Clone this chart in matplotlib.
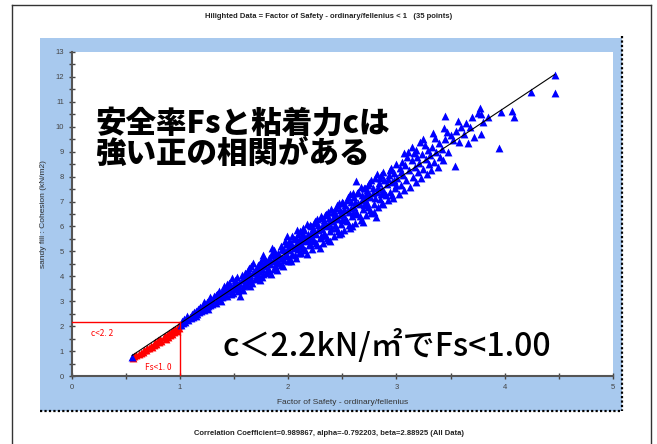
import matplotlib
matplotlib.use('Agg')
import matplotlib.pyplot as plt
from matplotlib.patches import Rectangle
from matplotlib.lines import Line2D
from matplotlib.ticker import MultipleLocator

plt.rcParams['font.family'] = ['Liberation Sans', 'Noto Sans CJK JP']

# regression from the caption
alpha = -0.792203
beta = 2.88925
line_fs = [0.56, 4.46]

# highlighted points (Fs < 1, 35 points)
red_fs = [0.57, 0.58, 0.60, 0.62, 0.64, 0.66, 0.67, 0.69, 0.70, 0.72, 0.73, 0.74,
          0.76, 0.77, 0.78, 0.80, 0.81, 0.82, 0.83, 0.85, 0.86, 0.87, 0.88, 0.89,
          0.90, 0.91, 0.92, 0.93, 0.94, 0.95, 0.96, 0.97, 0.98, 0.99, 0.99]
red_c = [0.72, 0.80, 0.83, 0.88, 0.93, 0.98, 1.06, 1.05, 1.13, 1.12, 1.22, 1.18,
         1.25, 1.35, 1.30, 1.45, 1.38, 1.50, 1.42, 1.56, 1.62, 1.50, 1.66, 1.58,
         1.72, 1.64, 1.78, 1.70, 1.86, 1.76, 1.90, 1.82, 1.98, 2.05, 1.92]

# all other points
blue_pts = [
    (0.56, 0.78),
    (1.01, 2.05), (1.02, 2.22), (1.03, 2.12), (1.04, 2.30), (1.05, 2.18), (1.06, 2.28),
    (1.07, 2.40), (1.08, 2.25), (1.09, 2.38), (1.10, 2.31),
    (1.11, 2.50), (1.12, 2.36), (1.13, 2.58), (1.14, 2.45), (1.15, 2.62), (1.16, 2.48),
    (1.17, 2.70), (1.18, 2.55), (1.19, 2.76), (1.20, 2.60), (1.15, 2.40), (1.18, 2.68),
    (1.21, 2.82), (1.22, 2.66), (1.23, 2.90), (1.24, 2.72), (1.25, 2.98), (1.26, 2.80),
    (1.27, 3.05), (1.28, 2.85), (1.29, 3.10), (1.30, 2.88), (1.22, 2.95), (1.26, 2.70),
    (1.28, 3.15),
    (1.31, 3.05), (1.32, 3.20), (1.33, 2.92), (1.34, 3.30), (1.35, 3.10), (1.36, 3.40),
    (1.37, 3.05), (1.38, 3.35), (1.39, 3.18), (1.40, 3.45), (1.33, 3.25), (1.36, 3.15),
    (1.38, 3.02), (1.40, 3.22),
    (1.41, 3.60), (1.42, 3.30), (1.43, 3.50), (1.44, 3.22), (1.45, 3.75), (1.46, 3.42),
    (1.47, 3.62), (1.48, 3.92), (1.49, 3.35), (1.50, 3.70), (1.42, 3.45), (1.45, 3.55),
    (1.47, 3.28), (1.50, 3.50), (1.44, 3.68),
    (1.51, 3.85), (1.52, 3.55), (1.53, 3.98), (1.54, 3.40), (1.55, 3.75), (1.56, 3.21),
    (1.57, 4.05), (1.58, 3.62), (1.59, 3.90), (1.60, 3.70), (1.52, 3.72), (1.55, 3.50),
    (1.57, 3.85), (1.60, 4.12), (1.58, 3.45), (1.54, 3.65),
    (1.61, 3.95), (1.62, 3.65), (1.63, 4.25), (1.64, 3.80), (1.65, 4.05), (1.66, 4.40),
    (1.67, 3.72), (1.68, 4.15), (1.69, 3.90), (1.70, 4.30), (1.62, 4.10), (1.64, 4.35),
    (1.66, 3.88), (1.68, 4.55), (1.70, 3.95), (1.65, 3.60), (1.69, 4.20),
    (1.71, 4.05), (1.72, 4.45), (1.73, 4.20), (1.74, 3.85), (1.75, 4.62), (1.76, 4.30),
    (1.77, 4.10), (1.78, 4.75), (1.79, 4.40), (1.80, 4.15), (1.72, 4.30), (1.74, 4.55),
    (1.76, 3.98), (1.78, 4.50), (1.80, 4.60), (1.73, 4.00), (1.77, 4.85),
    (1.81, 4.35), (1.82, 4.75), (1.83, 4.50), (1.84, 4.10), (1.85, 5.15), (1.86, 4.62),
    (1.87, 4.30), (1.88, 4.90), (1.89, 4.55), (1.90, 4.80), (1.82, 4.20), (1.84, 4.85),
    (1.86, 4.95), (1.88, 4.40), (1.90, 4.25), (1.83, 4.68), (1.87, 5.05), (1.89, 4.70),
    (1.91, 4.95), (1.92, 4.55), (1.93, 5.20), (1.94, 4.75), (1.95, 4.40), (1.96, 5.05),
    (1.97, 4.85), (1.98, 5.30), (1.99, 5.60), (2.00, 4.60), (1.92, 4.85), (1.94, 5.10),
    (1.96, 4.65), (1.98, 4.95), (2.00, 5.15), (1.93, 4.45), (1.97, 5.40), (1.99, 4.80),
    (2.01, 5.05), (2.02, 4.70), (2.03, 5.35), (2.04, 4.90), (2.05, 5.50), (2.06, 5.20),
    (2.07, 4.75), (2.08, 5.86), (2.09, 5.10), (2.10, 5.45), (2.02, 5.25), (2.04, 5.60),
    (2.06, 4.85), (2.08, 5.30), (2.10, 4.95), (2.03, 4.60), (2.05, 5.15), (2.07, 5.55),
    (2.09, 5.70), (2.01, 5.40),
    (2.11, 5.30), (2.12, 4.95), (2.13, 5.65), (2.14, 5.15), (2.15, 5.85), (2.16, 5.40),
    (2.17, 4.90), (2.18, 5.70), (2.19, 5.25), (2.20, 6.05), (2.12, 5.50), (2.14, 5.95),
    (2.16, 5.05), (2.18, 5.55), (2.20, 5.30), (2.11, 5.80), (2.13, 5.20), (2.15, 5.60),
    (2.17, 6.10), (2.19, 5.45),
    (2.21, 5.60), (2.22, 5.10), (2.23, 5.95), (2.24, 5.40), (2.25, 6.20), (2.26, 5.70),
    (2.27, 5.25), (2.28, 6.05), (2.29, 5.55), (2.30, 6.40), (2.22, 5.80), (2.24, 6.15),
    (2.26, 5.35), (2.28, 5.85), (2.30, 5.60), (2.21, 6.00), (2.23, 5.50), (2.25, 5.75),
    (2.27, 6.30), (2.29, 5.15),
    (2.31, 5.90), (2.32, 5.35), (2.33, 6.25), (2.34, 5.65), (2.35, 6.50), (2.36, 6.00),
    (2.37, 5.45), (2.38, 6.35), (2.39, 5.80), (2.40, 6.70), (2.32, 6.10), (2.34, 6.45),
    (2.36, 5.55), (2.38, 6.15), (2.40, 5.95), (2.31, 6.35), (2.33, 5.75), (2.35, 6.05),
    (2.37, 6.60), (2.39, 5.40),
    (2.41, 6.20), (2.42, 5.60), (2.43, 6.55), (2.44, 5.95), (2.45, 6.85), (2.46, 6.30),
    (2.47, 5.70), (2.48, 6.65), (2.49, 6.10), (2.50, 7.00), (2.42, 6.40), (2.44, 6.75),
    (2.46, 5.80), (2.48, 6.45), (2.50, 6.25), (2.41, 6.60), (2.43, 6.05), (2.45, 6.35),
    (2.47, 6.95), (2.49, 5.75),
    (2.51, 6.50), (2.52, 5.85), (2.53, 6.85), (2.54, 6.20), (2.55, 7.20), (2.56, 6.60),
    (2.57, 5.95), (2.58, 7.00), (2.59, 6.40), (2.60, 7.35), (2.52, 6.70), (2.54, 7.05),
    (2.56, 6.05), (2.58, 6.75), (2.60, 6.55), (2.51, 6.95), (2.53, 6.30), (2.55, 6.65),
    (2.57, 7.30), (2.59, 6.00),
    (2.61, 6.80), (2.62, 6.15), (2.63, 7.83), (2.64, 6.50), (2.65, 7.40), (2.66, 6.90),
    (2.67, 6.25), (2.68, 7.25), (2.69, 6.16), (2.70, 7.55), (2.62, 7.00), (2.64, 7.35),
    (2.66, 6.40), (2.68, 7.05), (2.70, 6.85), (2.61, 7.20), (2.63, 6.60), (2.65, 6.95),
    (2.67, 7.60), (2.69, 6.70),
    (2.71, 7.10), (2.72, 6.45), (2.73, 7.45), (2.74, 6.80), (2.75, 7.75), (2.76, 7.20),
    (2.77, 6.55), (2.78, 7.55), (2.79, 6.90), (2.80, 7.95), (2.72, 7.30), (2.74, 7.65),
    (2.76, 6.65), (2.78, 7.35), (2.80, 7.15), (2.71, 7.55), (2.73, 6.95), (2.75, 7.25),
    (2.77, 7.85), (2.79, 6.60), (2.81, 6.36),
    (2.82, 7.40), (2.83, 6.80), (2.84, 7.75), (2.85, 7.10), (2.86, 8.05), (2.87, 7.50),
    (2.88, 6.90), (2.89, 7.85), (2.90, 7.25), (2.83, 7.60), (2.85, 7.95), (2.87, 6.95),
    (2.89, 7.40), (2.82, 8.10), (2.86, 7.30), (2.88, 8.20),
    (2.91, 7.70), (2.92, 7.05), (2.93, 8.05), (2.94, 7.40), (2.95, 8.35), (2.96, 7.80),
    (2.97, 7.15), (2.98, 8.15), (2.99, 7.55), (3.00, 8.50), (2.92, 7.90), (2.94, 8.25),
    (2.96, 7.25), (2.98, 7.85), (3.00, 7.65),
    (3.01, 7.95), (3.02, 7.30), (3.03, 8.35), (3.04, 7.65), (3.05, 8.60), (3.06, 8.05),
    (3.07, 7.45), (3.08, 8.45), (3.09, 7.85), (3.10, 8.80), (3.04, 8.20), (3.07, 8.95),
    (3.11, 9.00),
    (3.12, 8.25), (3.13, 7.60), (3.14, 8.65), (3.15, 8.00), (3.16, 8.95), (3.17, 8.40),
    (3.18, 7.80), (3.19, 8.80), (3.20, 8.20), (3.14, 9.20), (3.18, 9.05), (3.22, 9.37),
    (3.21, 8.55), (3.23, 7.95), (3.24, 8.90), (3.25, 8.30), (3.26, 9.25), (3.27, 8.70),
    (3.28, 8.10), (3.29, 9.05), (3.30, 8.50), (3.25, 9.50),
    (3.31, 8.85), (3.32, 8.25), (3.33, 9.20), (3.35, 8.60), (3.36, 9.55), (3.37, 9.00),
    (3.38, 8.40), (3.39, 9.35), (3.40, 8.80), (3.34, 9.75),
    (3.42, 9.10), (3.43, 8.65), (3.45, 9.50), (3.45, 10.45), (3.47, 9.80), (3.48, 9.00),
    (3.50, 9.65), (3.44, 9.95),
    (3.52, 9.45), (3.54, 8.43), (3.55, 9.85), (3.57, 10.25), (3.58, 9.40), (3.60, 10.00),
    (3.62, 9.70), (3.64, 10.15), (3.66, 9.35), (3.68, 10.00), (3.70, 10.40), (3.72, 9.60),
    (3.75, 10.55), (3.77, 10.75), (3.78, 10.51), (3.78, 9.72), (3.80, 10.20),
    (3.85, 10.40), (3.95, 9.14), (3.97, 10.59), (4.07, 10.64), (4.09, 10.39),
    (4.24, 11.39), (4.46, 12.09), (4.46, 11.35),
]
blue_fs = [p[0] for p in blue_pts]
blue_c = [p[1] for p in blue_pts]

c_limit = 2.15
fs_limit = 1.0

W, H = 657, 444
fig = plt.figure(figsize=(W / 100, H / 100), dpi=100)

# light blue panel and frames (figure pixel coords)
def fx(px):
    return px / W

def fy(py):
    return 1 - py / H

fig.patches.append(Rectangle((fx(40), fy(411)), fx(622) - fx(40), fy(38) - fy(411),
                             transform=fig.transFigure, facecolor='#a8c9ee',
                             edgecolor='none', zorder=-2))
dots = dict(transform=fig.transFigure, color='black', lw=1.6, ls=(0, (1, 1)))
fig.lines.append(Line2D([fx(622), fx(622)], [fy(36), fy(411)], **dots))
fig.lines.append(Line2D([fx(40), fx(622)], [fy(411), fy(411)], **dots))
frame = dict(transform=fig.transFigure, color='#333333', lw=1.0)
fig.lines.append(Line2D([fx(11.5), fx(11.5)], [fy(5), 0], **frame))
fig.lines.append(Line2D([fx(11.5), fx(651)], [fy(5), fy(5)], **frame))
fig.lines.append(Line2D([fx(651), fx(651)], [fy(5), 0], **frame))

ax = fig.add_axes([fx(71.5), fy(376), fx(613) - fx(71.5), fy(52) - fy(376)])
ax.set_xlim(0, 5)
ax.set_ylim(0, 13)
ax.set_facecolor('white')

ax.scatter(red_fs, red_c, marker='^', s=32, color='#ff0000', linewidths=0, zorder=3)
ax.scatter(blue_fs, blue_c, marker='^', s=32, color='#0000ff', linewidths=0, zorder=3)
ax.plot(line_fs, [alpha + beta * x for x in line_fs], color='black', lw=0.8, zorder=4)

ax.plot([0, fs_limit], [c_limit, c_limit], color='red', lw=1.0, zorder=5)
ax.plot([fs_limit, fs_limit], [0, c_limit], color='red', lw=1.0, zorder=5)
ax.text(0.18, 1.7, 'c<2. 2', color='red', fontsize=6, va='center',
        family=['Noto Sans CJK JP'])
ax.text(0.68, 0.35, 'Fs<1. 0', color='red', fontsize=6, va='center',
        family=['Noto Sans CJK JP'])

for side in ['top', 'right']:
    ax.spines[side].set_visible(False)
for side in ['left', 'bottom']:
    ax.spines[side].set_color('#555555')
    ax.spines[side].set_linewidth(1.5)
ax.xaxis.set_major_locator(MultipleLocator(1))
ax.xaxis.set_minor_locator(MultipleLocator(0.5))
ax.yaxis.set_major_locator(MultipleLocator(1))
ax.yaxis.set_minor_locator(MultipleLocator(0.5))
ax.tick_params(which='both', direction='inout', color='#444444', labelcolor='#444444',
               labelsize=5.5, width=1)
ax.tick_params(which='major', length=5, pad=3)
ax.tick_params(which='minor', length=4)

ax.set_xlabel('Factor of Safety - ordinary/fellenius', fontsize=6, color='#333333',
              labelpad=6)
ax.set_ylabel('sandy fill : Cohesion (kN/m2)', fontsize=6, color='#333333', labelpad=6)

fig.text(0.5, fy(16), 'Hilighted Data = Factor of Safety - ordinary/fellenius < 1   (35 points)',
         ha='center', va='center', fontsize=5.5, fontweight='bold', color='#222222')
fig.text(0.5, fy(433), 'Correlation Coefficient=0.989867, alpha=-0.792203, beta=2.88925 (All Data)',
         ha='center', va='center', fontsize=5.5, fontweight='bold', color='#222222')

fig.text(fx(95), fy(107), '安全率Fsと粘着力cは\n強い正の相関がある', ha='left', va='top',
         fontsize=22, fontweight='heavy', linespacing=1.0, color='black',
         family=['Noto Sans CJK JP'])
fig.text(fx(222), fy(346), 'c＜2.2kN/㎡でFs<1.00', ha='left', va='center',
         fontsize=23, fontweight='medium', color='black',
         family=['Noto Sans CJK JP', 'DejaVu Sans'])

fig.savefig('out.png', dpi=100)
